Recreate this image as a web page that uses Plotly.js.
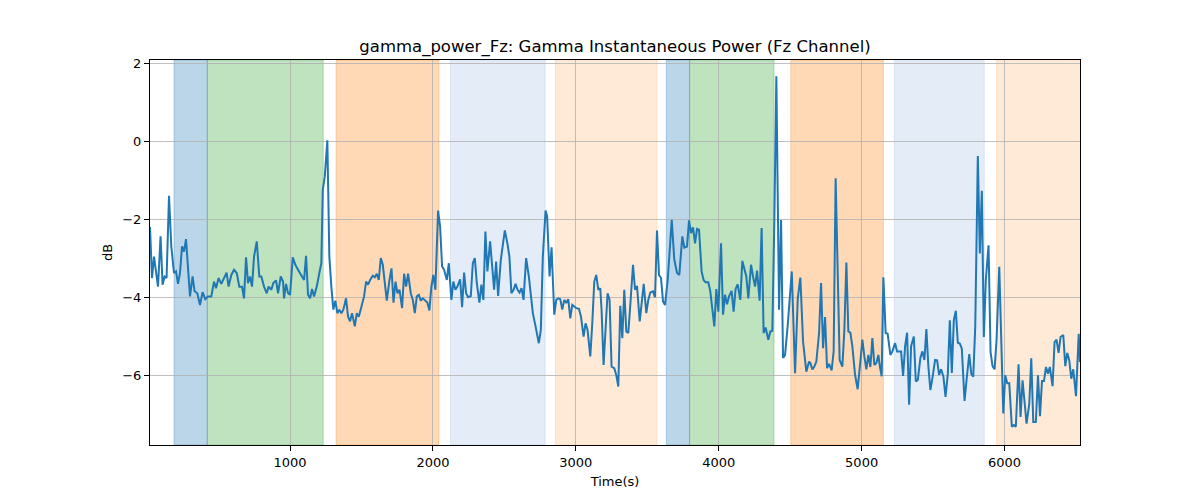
<!DOCTYPE html>
<html>
<head>
<meta charset="utf-8">
<script src="https://cdn.plot.ly/plotly-3.0.1.min.js"></script>
<style>
  html, body { margin: 0; padding: 0; background: #ffffff; }
  #chart { width: 1200px; height: 500px; }
</style>
</head>
<body>
<div id="chart"></div>
<script>
// Gamma power on Fz, one value every ~15 s
var timeSec = [
  20, 34, 48, 62, 76, 94, 108, 122, 136, 153, 169, 188, 202, 216, 230, 244, 258, 272, 286, 300,
  318, 332, 351, 370, 388, 407, 426, 449, 468, 482, 500, 519, 538, 556, 570, 589, 608, 627, 645, 664,
  678, 692, 706, 720, 734, 748, 767, 785, 799, 818, 837, 850, 869, 883, 902, 916, 935, 951,
  958, 972, 986, 1000, 1019, 1037, 1056, 1075, 1098, 1112, 1126, 1140, 1154, 1168, 1187, 1205, 1219, 1229, 1243, 1261,
  1275, 1289, 1303, 1317, 1331, 1345, 1359, 1373, 1392, 1406, 1420, 1434, 1453, 1467, 1481, 1500, 1518, 1532, 1546, 1560,
  1579, 1593, 1607, 1621, 1635, 1649, 1663, 1677, 1696, 1710, 1724, 1738, 1752, 1766, 1784, 1798, 1812, 1826, 1845, 1859, 1873,
  1887, 1901, 1915, 1929, 1943, 1961, 1975, 1989, 2003, 2017, 2036, 2050, 2064, 2078, 2097, 2111, 2129, 2143, 2157, 2171,
  2190, 2204, 2218, 2232, 2246, 2265, 2279, 2293, 2307, 2325, 2339, 2353, 2367, 2381, 2400, 2414, 2428, 2442, 2456, 2475,
  2489, 2503, 2521, 2535, 2549, 2564, 2578, 2592, 2606, 2620, 2634, 2652, 2671, 2685, 2699, 2718, 2732, 2741, 2755, 2769, 2788, 2799,
  2816, 2830, 2849, 2863, 2877, 2891, 2905, 2919, 2933, 2947, 2961, 2975, 2989, 3003, 3022, 3036, 3054, 3068, 3082, 3101,
  3115, 3129, 3143, 3157, 3171, 3180, 3194, 3208, 3222, 3236, 3250, 3269, 3283, 3297, 3311, 3325, 3339, 3353, 3367, 3381,
  3400, 3414, 3428, 3447, 3461, 3475, 3493, 3507, 3521, 3540, 3554, 3568, 3582, 3596, 3610, 3624, 3643, 3657, 3671, 3689, 3708, 3724,
  3731, 3745, 3759, 3778, 3792, 3806, 3820, 3834, 3848, 3862, 3880, 3894, 3908, 3927, 3941, 3955, 3969, 3983, 3997, 4016,
  4030, 4044, 4058, 4072, 4090, 4104, 4118, 4132, 4151, 4165, 4179, 4193, 4207, 4226, 4240, 4254, 4268, 4286, 4300, 4314,
  4328, 4347, 4361, 4375, 4389, 4403, 4422, 4436, 4450, 4464, 4483, 4511, 4534, 4553, 4571, 4590, 4613, 4632,
  4641, 4655, 4669, 4683, 4702, 4716, 4730, 4744, 4758, 4772, 4790, 4804, 4818, 4832, 4846, 4865, 4879, 4893, 4907, 4921,
  4935, 4954, 4972, 4991, 5005, 5019, 5033, 5047, 5061, 5075, 5089, 5103, 5117, 5126, 5140, 5152, 5168, 5182, 5201, 5215,
  5234, 5248, 5262, 5276, 5290, 5304, 5318, 5332, 5346, 5365, 5379, 5393, 5411, 5425, 5439, 5453, 5467, 5481, 5495, 5514,
  5528, 5542, 5556, 5572,
  5587, 5603, 5617, 5631, 5645, 5659, 5673, 5687, 5701, 5720, 5734, 5753, 5767, 5781, 5795, 5804, 5813, 5827, 5841, 5855,
  5869, 5888, 5902, 5916, 5930, 5944, 5963, 5977, 5991, 6005, 6019, 6033, 6051, 6065, 6079, 6098, 6112, 6126, 6140, 6154,
  6173, 6187, 6201, 6219, 6234, 6248, 6262, 6276, 6290, 6304, 6317, 6336, 6350, 6364, 6378, 6392, 6411, 6425, 6439, 6453,
  6467, 6481, 6500, 6519, 6528
];

var gammaDb = [
  -2.2, -3.51, -2.96, -3.30, -3.73, -2.44, -3.68, -3.47, -3.51, -1.40, -2.70, -3.38, -3.34, -3.66, -3.38, -2.70, -2.83, -2.51, -3.13, -3.98,
  -3.47, -3.85, -3.90, -4.20, -3.87, -4.05, -3.98, -3.98, -3.60, -3.77, -3.51, -3.66, -3.51, -3.37, -3.73, -3.43, -3.30, -3.38, -3.73, -3.73,
  -4.03, -2.98, -3.64, -3.47, -3.73, -2.96, -2.57, -3.47, -3.47, -3.73, -3.90, -3.73, -3.81, -3.64, -3.57, -3.90, -3.47, -3.60,
  -4.03, -3.66, -3.90, -3.94, -2.98, -3.17, -3.30, -3.43, -3.56, -2.94, -3.94, -4.03, -3.79, -3.98, -3.73, -3.38, -3.13, -1.25, -0.91, 0.02,
  -2.96, -3.73, -4.32, -4.09, -4.41, -4.32, -4.41, -4.32, -4.03, -4.50, -4.62, -4.41, -4.75, -4.41, -4.50, -4.24, -3.98, -3.60, -3.68, -3.56,
  -3.45, -3.49, -3.40, -3.56, -3.00, -3.17, -3.64, -4.09, -3.56, -3.26, -4.14, -3.60, -3.90, -3.81, -4.28, -3.40, -3.73, -3.40, -3.90, -4.07, -4.41,
  -3.98, -3.94, -4.09, -4.03, -4.07, -4.14, -4.34, -3.73, -3.43, -3.81, -1.78, -2.19, -3.21, -3.30, -3.56, -3.13, -4.07, -3.60, -3.81, -3.73,
  -3.54, -4.26, -3.37, -3.90, -4.00, -3.97, -3.13, -3.00, -3.64, -4.14, -3.68, -4.07, -2.32, -3.34, -2.57, -3.30, -3.81, -3.09, -3.97, -3.04,
  -2.62, -2.29, -2.62, -2.96, -3.90, -3.81, -3.66, -3.81, -3.88, -3.77, -4.07, -3.00, -3.47, -3.90, -4.41, -4.75, -5.05, -5.18, -4.84, -2.96, -1.78, -1.93,
  -3.47, -2.72, -4.45, -4.07, -4.03, -4.05, -4.32, -4.07, -4.15, -4.05, -4.54, -4.20, -4.24, -4.28, -4.30, -4.50, -5.01, -4.67, -4.84, -5.52,
  -4.67, -3.60, -3.43, -3.81, -3.77, -4.32, -5.74, -4.84, -3.90, -4.07, -5.78, -5.82, -6.00, -6.29, -4.22, -5.05, -3.81, -4.88, -4.92, -4.20,
  -3.17, -3.81, -3.71, -4.62, -4.07, -3.66, -4.41, -4.07, -3.88, -3.85, -4.00, -2.29, -3.43, -3.51, -4.11, -4.20, -3.56, -2.79, -2.02, -3.04, -3.38, -3.43,
  -3.00, -2.44, -2.73, -2.70, -2.03, -2.36, -2.21, -2.62, -2.25, -2.27, -3.34, -3.56, -3.62, -3.62, -3.85, -4.28, -4.75, -3.79, -4.37, -2.62,
  -4.45, -3.94, -4.18, -3.98, -3.84, -4.37, -3.79, -3.67, -4.07, -3.07, -3.26, -3.47, -4.03, -3.17, -3.47, -3.73, -3.32, -4.09, -2.23, -4.92,
  -4.78, -5.09, -4.88, -4.86, -2.06, 1.66, -4.32, -2.02, -5.56, -5.48, -4.71, -3.34, -5.95, -4.03, -3.50, -5.14, -5.91, -5.65,
  -5.69, -5.85, -5.78, -5.65, -4.92, -3.64, -5.31, -4.51, -5.82, -5.71, -5.88, -5.39, -0.95, -3.81, -5.61, -5.78, -4.84, -3.11, -4.88, -4.91,
  -5.26, -5.99, -6.36, -5.65, -5.09, -5.52, -5.85, -5.48, -5.79, -5.05, -5.74, -5.69, -5.48, -5.74, -6.03, -3.49, -4.92, -4.94, -5.48, -5.39,
  -5.18, -5.39, -5.39, -5.39, -6.02, -5.26, -4.91, -6.76, -5.26, -5.01, -6.16, -6.12, -5.56, -5.39, -5.61, -4.82, -5.78, -6.38, -6.08, -5.61,
  -5.62, -5.99, -5.85, -6.03,
  -6.56, -5.96, -4.59, -5.94, -4.59, -4.35, -5.17, -5.19, -5.32, -6.66, -6.13, -5.46, -5.96, -6.04, -4.76, -2.54, -0.38, -2.88, -1.27, -5.02,
  -3.56, -2.67, -5.40, -5.77, -5.85, -5.10, -3.22, -5.10, -6.98, -6.00, -6.21, -6.21, -7.32, -7.28, -7.32, -5.72, -7.07, -6.13, -6.64, -7.24,
  -6.73, -5.57, -7.20, -7.20, -6.00, -7.05, -6.15, -6.15, -5.79, -5.96, -5.79, -6.28, -5.15, -5.09, -5.43, -5.02, -4.97, -5.77, -5.43, -5.62,
  -6.09, -5.85, -6.54, -4.94, -5.66
];

// Shaded stage windows (seconds)
var spanStart = [188, 421, 1322, 2122, 2856, 3633, 3796, 4504, 5229, 5944];
var spanEnd   = [421, 1232, 2041, 2785, 3568, 3796, 4387, 5152, 5858, 6560];
var spanKind  = ["blue", "green", "orange", "paleblue", "peach",
                 "blue", "green", "orange", "paleblue", "peach"];

var SPAN_COLORS = {
  blue: "rgba(31,119,180,0.3)",
  green: "rgba(44,160,44,0.3)",
  orange: "rgba(255,127,14,0.3)",
  paleblue: "rgba(120,160,220,0.2)",
  peach: "rgba(255,150,60,0.2)"
};

var FONT = "DejaVu Sans, Liberation Sans, sans-serif";

var shapes = spanStart.map(function (s, i) {
  var c = SPAN_COLORS[spanKind[i]];
  return {
    type: "rect", xref: "x", yref: "paper",
    x0: s, x1: spanEnd[i], y0: 0, y1: 1,
    fillcolor: c, line: { color: c, width: 1 }, layer: "between"
  };
});

var trace = {
  x: timeSec,
  y: gammaDb,
  type: "scatter",
  mode: "lines",
  line: { color: "#1f77b4", width: 2 },
  hoverinfo: "skip"
};

var axisCommon = {
  showgrid: true,
  gridcolor: "#b0b0b0",
  gridwidth: 0.8,
  showline: true,
  linecolor: "#000000",
  linewidth: 1,
  mirror: true,
  ticks: "outside",
  ticklen: 5,
  tickwidth: 1,
  tickcolor: "#000000",
  zeroline: false,
  tickfont: { family: FONT, size: 13, color: "#000000" }
};

var layout = {
  width: 1200,
  height: 500,
  paper_bgcolor: "#ffffff",
  plot_bgcolor: "rgba(0,0,0,0)",
  margin: { l: 150, r: 120, t: 60, b: 55 },
  showlegend: false,
  font: { family: FONT, color: "#000000" },
  title: {
    text: "gamma_power_Fz: Gamma Instantaneous Power (Fz Channel)",
    font: { family: FONT, size: 16.5, color: "#000000" },
    xref: "paper", x: 0.5, xanchor: "center",
    yref: "container", y: 0.908, yanchor: "middle"
  },
  xaxis: Object.assign({}, axisCommon, {
    range: [20, 6528],
    tickvals: [1000, 2000, 3000, 4000, 5000, 6000],
    title: { text: "Time(s)", font: { family: FONT, size: 13, color: "#000000" }, standoff: 8 }
  }),
  yaxis: Object.assign({}, axisCommon, {
    range: [-7.79, 2.08],
    tickvals: [-6, -4, -2, 0, 2],
    title: { text: "dB", font: { family: FONT, size: 13, color: "#000000" }, standoff: 6 }
  }),
  shapes: shapes
};

Plotly.newPlot("chart", [trace], layout, { displayModeBar: false, staticPlot: true });
</script>
</body>
</html>
